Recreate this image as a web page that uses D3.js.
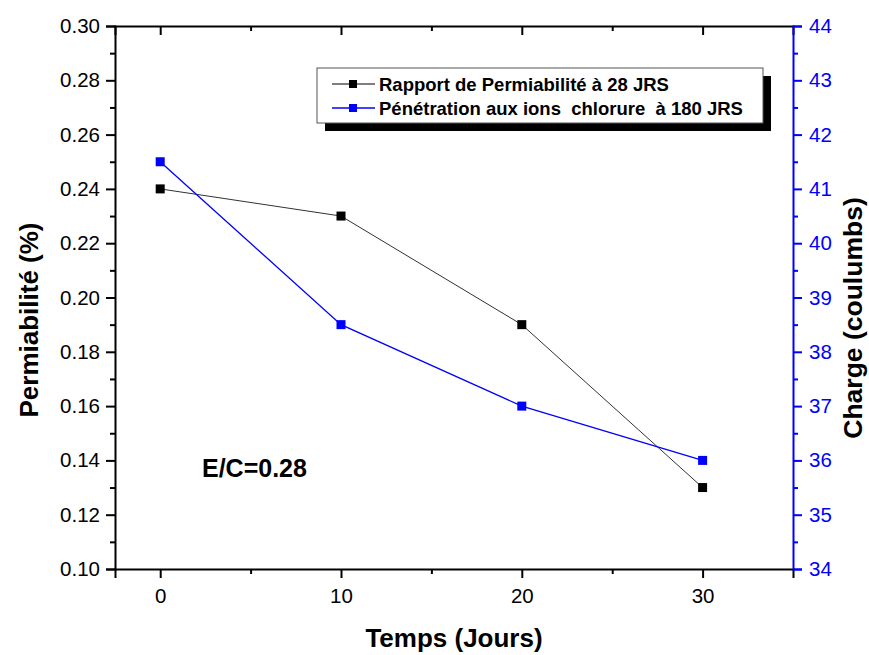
<!DOCTYPE html>
<html>
<head>
<meta charset="utf-8">
<script src="https://cdn.jsdelivr.net/npm/d3@7"></script>
<style>
  body { margin: 0; background: #fff; }
  svg { font-family: Arial, "Liberation Sans", sans-serif; }
</style>
</head>
<body>
<div id="chart"></div>
<script>
// data
const days = [0, 10, 20, 30];
const permeability = [0.24, 0.23, 0.19, 0.13];
const charge = [41.5, 38.5, 37, 36];
const legendLabels = ["Rapport de Permiabilité à 28 JRS", "Pénétration aux ions  chlorure  à 180 JRS"];
const xTicks = [0, 10, 20, 30];
const leftTicks = [0.10, 0.12, 0.14, 0.16, 0.18, 0.20, 0.22, 0.24, 0.26, 0.28, 0.30];
const rightTicks = [34, 35, 36, 37, 38, 39, 40, 41, 42, 43, 44];

const width = 869, height = 655;
const margin = { top: 26, right: 76, bottom: 86, left: 115 };
const innerW = width - margin.left - margin.right;
const innerH = height - margin.top - margin.bottom;
const blue = "#0000ff";

const svg = d3.select("#chart").append("svg")
  .attr("width", width)
  .attr("height", height);

const g = svg.append("g").attr("transform", `translate(${margin.left},${margin.top})`);

const x = d3.scaleLinear().domain([-2.5, 35]).range([0, innerW]);
const yL = d3.scaleLinear().domain([0.10, 0.30]).range([innerH, 0]);
const yR = d3.scaleLinear().domain([34, 44]).range([innerH, 0]);

function styleAxis(sel, color) {
  sel.select(".domain").attr("stroke", color).attr("stroke-width", 2);
  sel.selectAll(".tick line").attr("stroke", color).attr("stroke-width", 2);
  sel.selectAll(".tick text").attr("fill", color).attr("font-size", 20.5);
}

// minor ticks
const xMinor = [5, 15, 25];
const leftMinor = d3.range(0.11, 0.30, 0.02);
const rightMinor = d3.range(34.5, 44, 1);

// bottom axis
const xAxisG = g.append("g").attr("transform", `translate(0,${innerH})`)
  .call(d3.axisBottom(x).tickValues(xTicks).tickSizeOuter(0).tickSize(9).tickPadding(10).tickFormat(d3.format("d")));
styleAxis(xAxisG, "#000");
g.append("g").attr("transform", `translate(0,${innerH})`)
  .call(d3.axisBottom(x).tickValues(xMinor).tickSize(5).tickFormat(""))
  .call(s => { s.select(".domain").remove(); s.selectAll("line").attr("stroke", "#000").attr("stroke-width", 2); });

// top axis (ticks inward)
const topG = g.append("g")
  .call(d3.axisBottom(x).tickValues(xTicks).tickSizeOuter(0).tickSize(9).tickFormat(""));
styleAxis(topG, "#000");
g.append("g")
  .call(d3.axisBottom(x).tickValues(xMinor).tickSize(5).tickFormat(""))
  .call(s => { s.select(".domain").remove(); s.selectAll("line").attr("stroke", "#000").attr("stroke-width", 2); });

// left axis
const yLG = g.append("g")
  .call(d3.axisLeft(yL).tickValues(leftTicks).tickSizeOuter(0).tickSize(9).tickPadding(6).tickFormat(d3.format(".2f")));
styleAxis(yLG, "#000");
g.append("g")
  .call(d3.axisLeft(yL).tickValues(leftMinor).tickSize(5).tickFormat(""))
  .call(s => { s.select(".domain").remove(); s.selectAll("line").attr("stroke", "#000").attr("stroke-width", 2); });

// right axis
const yRG = g.append("g").attr("transform", `translate(${innerW},0)`)
  .call(d3.axisRight(yR).tickValues(rightTicks).tickSizeOuter(0).tickSize(9).tickPadding(7).tickFormat(d3.format("d")));
styleAxis(yRG, blue);
g.append("g").attr("transform", `translate(${innerW},0)`)
  .call(d3.axisRight(yR).tickValues(rightMinor).tickSize(5).tickFormat(""))
  .call(s => { s.select(".domain").remove(); s.selectAll("line").attr("stroke", blue).attr("stroke-width", 2); });

// lines
const permData = days.map((d, i) => ({ x: d, y: permeability[i] }));
const chargeData = days.map((d, i) => ({ x: d, y: charge[i] }));

g.append("path")
  .attr("fill", "none")
  .attr("stroke", "#333")
  .attr("stroke-width", 1)
  .attr("d", d3.line().x(d => x(d.x)).y(d => yL(d.y))(permData));

g.append("path")
  .attr("fill", "none")
  .attr("stroke", blue)
  .attr("stroke-width", 1.3)
  .attr("d", d3.line().x(d => x(d.x)).y(d => yR(d.y))(chargeData));

const ms = 9;
g.selectAll(".mk1").data(permData).enter().append("rect")
  .attr("x", d => x(d.x) - ms / 2).attr("y", d => yL(d.y) - ms / 2)
  .attr("width", ms).attr("height", ms).attr("fill", "#000");
g.selectAll(".mk2").data(chargeData).enter().append("rect")
  .attr("x", d => x(d.x) - ms / 2).attr("y", d => yR(d.y) - ms / 2)
  .attr("width", ms).attr("height", ms).attr("fill", blue);

// axis titles
svg.append("text")
  .attr("transform", `translate(38,320) rotate(-90)`)
  .attr("text-anchor", "middle")
  .attr("font-size", 26).attr("font-weight", "bold")
  .text("Permiabilité (%)");

svg.append("text")
  .attr("transform", `translate(862,318) rotate(-90)`)
  .attr("text-anchor", "middle")
  .attr("font-size", 26.5).attr("font-weight", "bold")
  .text("Charge (coulumbs)");

svg.append("text")
  .attr("x", 454).attr("y", 647)
  .attr("text-anchor", "middle")
  .attr("font-size", 26).attr("font-weight", "bold")
  .text("Temps (Jours)");

svg.append("text")
  .attr("x", 202).attr("y", 477)
  .attr("font-size", 25).attr("font-weight", "bold")
  .text("E/C=0.28");

// legend
const lg = svg.append("g").attr("transform", "translate(317,68)");
const lw = 446, lh = 55;
lg.append("rect").attr("x", 8).attr("y", 8).attr("width", lw).attr("height", lh).attr("fill", "#000");
lg.append("rect").attr("x", 0).attr("y", 0).attr("width", lw).attr("height", lh)
  .attr("fill", "#fff").attr("stroke", "#555").attr("stroke-width", 1);
const legendColors = ["#555", blue];
const markColors = ["#000", blue];
legendLabels.forEach((lab, i) => {
  const cy = 16 + i * 24;
  lg.append("line").attr("x1", 15).attr("x2", 58).attr("y1", cy).attr("y2", cy)
    .attr("stroke", legendColors[i]).attr("stroke-width", 1.3);
  lg.append("rect").attr("x", 36 - 4).attr("y", cy - 4).attr("width", 8).attr("height", 8)
    .attr("fill", markColors[i]);
  lg.append("text").attr("x", 62).attr("y", cy + 7)
    .attr("font-size", 18.5).attr("font-weight", "bold")
    .style("white-space", "pre")
    .text(lab);
});
</script>
</body>
</html>
